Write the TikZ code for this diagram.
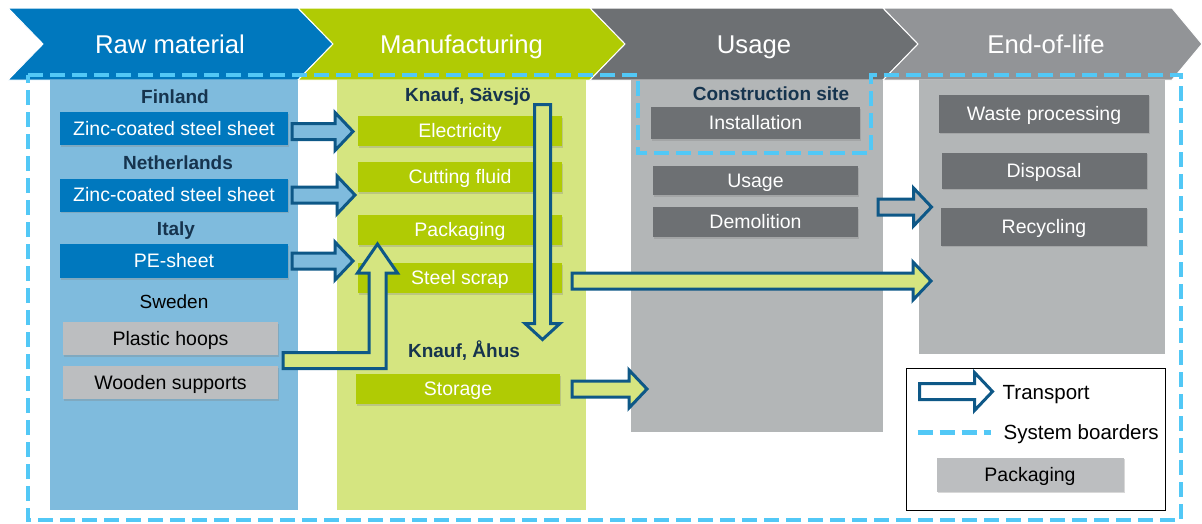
\documentclass[tikz,border=0pt]{standalone}
\usepackage{fontspec}
\setmainfont{Liberation Sans}
\usepackage{tikz}
\usetikzlibrary{positioning,calc,shadows}
\definecolor{rawdark}{RGB}{0,120,190}
\definecolor{rawlight}{RGB}{127,187,221}
\definecolor{mfgdark}{RGB}{176,203,4}
\definecolor{mfglight}{RGB}{213,229,128}
\definecolor{usedark}{RGB}{109,112,115}
\definecolor{uselight}{RGB}{179,182,183}
\definecolor{eoldark}{RGB}{146,148,151}
\definecolor{packgray}{RGB}{188,190,192}
\definecolor{labelnavy}{RGB}{22,52,78}
\definecolor{transportblue}{RGB}{14,88,135}
\definecolor{borderblue}{RGB}{82,200,246}
\tikzset{
	lca flow/.style={
		x=1pt,y=-1pt, % pixel grid, y going down
		font=\fontsize{19.5pt}{23pt}\selectfont
	},
	stage head/.style={
		fill=#1,
		draw=white,
		line width=1pt,
		line join=miter
	},
	stage title/.style={
		text=white,
		inner sep=0pt,
		font=\fontsize{25.7pt}{30pt}\selectfont,
		text height=18.4pt,text depth=0pt % centre on the capitals
	},
	stage column/.style={
		rectangle,
		fill=#1,
		anchor=north west,
		inner sep=0pt,
		outer sep=0pt
	},
	site label/.style={
		inner sep=0pt,
		text=labelnavy,
		font=\fontsize{19pt}{22pt}\selectfont\bfseries,
		text height=13.6pt,text depth=0pt
	},
	process/.style={
		rectangle,
		fill=#1,
		text=white,
		inner sep=0pt,
		outer sep=0pt,
		text height=13.9pt,text depth=0pt,
		drop shadow={opacity=0.3,shadow xshift=1.2pt,shadow yshift=-1.8pt}
	},
	packaging/.style={
		process=packgray,
		text=black
	},
	transport/.style={
		draw=transportblue,
		line width=3pt,
		line join=miter
	},
	system border/.style={
		draw=borderblue,
		line width=4.5pt,
		dash pattern=on 15pt off 7pt
	},
	legend text/.style={
		anchor=west,
		inner sep=0pt,
		font=\fontsize{20.5pt}{24pt}\selectfont,
		text height=14.6pt,text depth=0pt
	}
}
\newcommand{\transport}[3][rawlight]{% fill, from, to
	\draw[transport,fill=#1] let \p1=#2, \p2=#3 in
		(\x1,\y1+8pt) -- (\x2-18pt,\y1+8pt) -- (\x2-18pt,\y1+19pt) -- (\x2,\y1)
		-- (\x2-18pt,\y1-19pt) -- (\x2-18pt,\y1-8pt) -- (\x1,\y1-8pt) -- cycle;
}

\begin{document}
\begin{tikzpicture}[lca flow]
	\useasboundingbox (0,0) rectangle (1202,523);
	% life cycle stages
	\path[stage head=rawdark] (8,8) -- (298,8) -- (333,44) -- (298,80) -- (8,80) -- (43,44) -- cycle;
	\path[stage head=mfgdark] (298,8) -- (590,8) -- (625,44) -- (590,80) -- (298,80) -- (333,44) -- cycle;
	\path[stage head=usedark] (590,8) -- (883,8) -- (918,44) -- (883,80) -- (590,80) -- (625,44) -- cycle;
	\path[stage head=eoldark] (883,8) -- (1172,8) -- (1202,44) -- (1172,80) -- (883,80) -- (918,44) -- cycle;
	\node[stage title] (rawtitle) at (170,44) {Raw material};
	\node[stage title] (mfgtitle) at (461.5,44) {Manufacturing};
	\node[stage title] (usetitle) at (754,44) {Usage};
	\node[stage title] (eoltitle) at (1046,44) {End-of-life};

	\node[stage column=rawlight,minimum width=248pt,minimum height=430pt] (rawcol) at (50,80) {};
	\node[stage column=mfglight,minimum width=249pt,minimum height=430pt] (mfgcol) at (337,80) {};
	\node[stage column=uselight,minimum width=252pt,minimum height=352pt] (usecol) at (631,80) {};
	\node[stage column=uselight,minimum width=246pt,minimum height=274pt] (eolcol) at (919,80) {};

	\begin{scope}[every node/.append style={minimum width=228pt,minimum height=33pt}]
		\node[site label,minimum width=0pt,minimum height=0pt] (finland) at (175,97) {Finland};
		\node[process=rawdark,below=8pt of finland,xshift=-1pt] (zincfi) {Zinc-coated steel sheet};
		\node[site label,minimum width=0pt,minimum height=0pt,below=10.5pt of zincfi,xshift=4pt] (netherlands) {Netherlands};
		\node[process=rawdark,below=9pt of netherlands,xshift=-4pt] (zincnl) {Zinc-coated steel sheet};
		\node[site label,minimum width=0pt,minimum height=0pt,below=10.5pt of zincnl,xshift=2pt] (italy) {Italy};
		\node[process=rawdark,below=8pt of italy,xshift=-2pt,minimum height=34pt] (pesheet) {PE-sheet};
		\node[site label,minimum width=0pt,minimum height=0pt,text=black,font=\fontsize{19pt}{22pt}\selectfont,below=17pt of pesheet] (sweden) {Sweden};
		\node[packaging,below=13pt of sweden,xshift=-3.5pt,minimum width=215pt] (hoops) {Plastic hoops};
		\node[packaging,below=11pt of hoops,minimum width=215pt] (supports) {Wooden supports};
	\end{scope}

	\begin{scope}[every node/.append style={minimum width=204pt,minimum height=30pt}]
		\node[site label,minimum width=0pt,minimum height=0pt] (savsjo) at (468,95) {Knauf, Sävsjö};
		\node[process=mfgdark,below=14pt of savsjo,xshift=-8pt] (elec) {Electricity};
		\node[process=mfgdark,below=16pt of elec] (fluid) {Cutting fluid};
		\node[process=mfgdark,below=23pt of fluid] (pack) {Packaging};
		\node[process=mfgdark,below=18pt of pack] (scrap) {Steel scrap};
		\node[site label,minimum width=0pt,minimum height=0pt,below=51pt of scrap,xshift=4pt] (ahus) {Knauf, Åhus};
		\node[process=mfgdark,below=16pt of ahus,xshift=-6pt] (storage) {Storage};
	\end{scope}

	\node[process=usedark,minimum width=209pt,minimum height=32pt] (install) at (755.5,123) {Installation};
	\node[site label,above=6.5pt of install,xshift=15.5pt] (consite) {Construction site};
	\node[process=usedark,minimum width=205pt,minimum height=29pt,below=27pt of install] (usage) {Usage};
	\node[process=usedark,minimum width=205pt,minimum height=30pt,below=12pt of usage] (demolition) {Demolition};

	\node[process=usedark,minimum width=210pt,minimum height=38pt] (waste) at (1044,113.5) {Waste processing};
	\node[process=usedark,minimum width=205pt,minimum height=36pt,below=20pt of waste] (disposal) {Disposal};
	\node[process=usedark,minimum width=206pt,minimum height=38pt,below=19pt of disposal] (recycling) {Recycling};

	% transports
	\transport{($(zincfi.east)+(4,3)$)}{($(elec.west)+(-5,0)$)}
	\transport{($(zincnl.east)+(4,0)$)}{($(fluid.west)+(-3,0)$)}
	\transport{($(pesheet.east)+(4,0)$)}{($(pack.west)+(-5,0)$)}
	\draw[transport,fill=mfglight] let \p1=($(hoops.south east)!.5!(supports.north east)+(5,0)$),
		\p2=($(pack.south west)+(19.5,-1)$) in
		(\x1,\y1+8pt) -- (\x2-8.5pt,\y1+8pt) -- (\x2-8.5pt,\y2-29pt) -- (\x2-20pt,\y2-29pt) -- (\x2,\y2)
		-- (\x2+20pt,\y2-29pt) -- (\x2+8.5pt,\y2-29pt) -- (\x2+8.5pt,\y1-8pt) -- (\x1,\y1-8pt) -- cycle;
	\draw[transport,fill=mfglight] let \p1=($(elec.north east)+(-19.5,-11.5)$),
		\p2=($(elec.east |- ahus.north)+(-19.5,-4.5)$) in
		(\x1-8pt,\y1) -- (\x1-8pt,\y2+16pt) -- (\x1-17.5pt,\y2+16pt) -- (\x1,\y2)
		-- (\x1+17.5pt,\y2+16pt) -- (\x1+8pt,\y2+16pt) -- (\x1+8pt,\y1) -- cycle;
	\transport[mfglight]{($(scrap.east)+(10,3)$)}{($(eolcol.west)+(12,0)$)}
	\transport[mfglight]{($(storage.east)+(12,0)$)}{($(usecol.west)+(16,0)$)}
	\transport[uselight]{($(demolition.north east)+(20,0)$)}{($(recycling.west)+(-9.5,0)$)}

	% legend
	\node[draw=black,line width=1pt,fill=white,anchor=north west,inner sep=0pt,
		minimum width=259pt,minimum height=142pt] (legend) at (905.5,367.5) {};
	\transport[white]{($(legend.north west)+(14,24)$)}{($(legend.north west)+(87,24)$)}
	\node[legend text] (legtransport) at ($(legend.north west)+(97,25)$) {Transport};
	\draw[system border] ($(legend.north west)+(12,65)$) -- ++(73,0);
	\node[legend text] (legborder) at ($(legend.north west)+(98,65)$) {System boarders};
	\node[packaging,minimum width=187pt,minimum height=34pt] (legpack) at ($(legend.north west)+(124.5,107)$) {Packaging};

	% system boarders
	\draw[system border] (28,75) -- (638,75) -- (638,153) -- (871,153) -- (871,75) -- (1181,75) -- (1181,520) -- (28,520) -- cycle;
\end{tikzpicture}
\end{document}
